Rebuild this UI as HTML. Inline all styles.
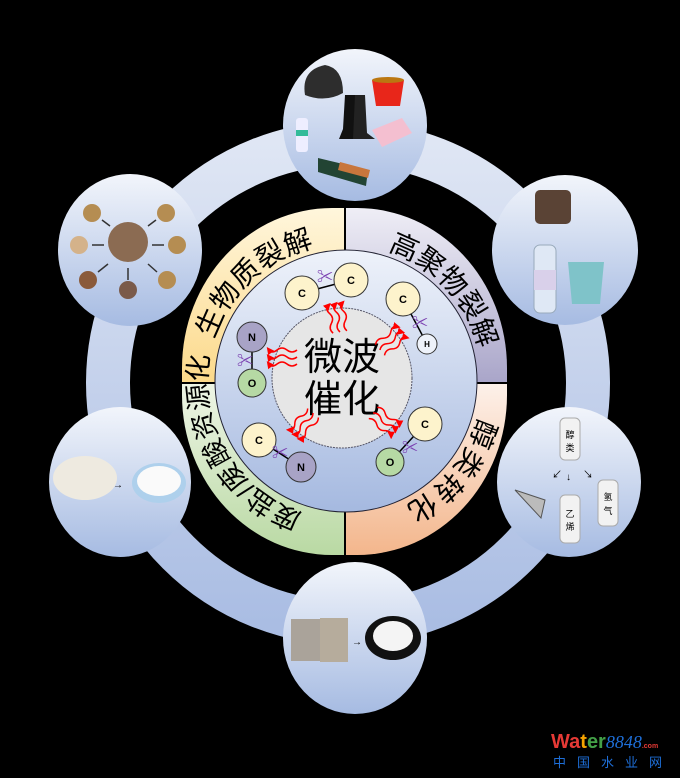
<!DOCTYPE html>
<html><head><meta charset="utf-8"><style>
html,body{margin:0;padding:0;background:#000;}
svg{display:block;}
text{font-family:"Liberation Sans","Noto Sans CJK SC",sans-serif;}
</style></head><body>
<svg width="680" height="778" viewBox="0 0 680 778" xmlns="http://www.w3.org/2000/svg">
<defs>
<linearGradient id="sat" x1="0" y1="0" x2="0" y2="1"><stop offset="0" stop-color="#f2f5fb"/><stop offset="1" stop-color="#a6bbe2"/></linearGradient>
<linearGradient id="ringg" x1="0" y1="0" x2="0" y2="1"><stop offset="0" stop-color="#dfe6f4"/><stop offset="1" stop-color="#aabde3"/></linearGradient>
<linearGradient id="mid" x1="0" y1="0" x2="0" y2="1"><stop offset="0" stop-color="#eef2fa"/><stop offset="1" stop-color="#a5b9e0"/></linearGradient>
<linearGradient id="qy" x1="0" y1="0" x2="0" y2="1"><stop offset="0" stop-color="#fff6dc"/><stop offset="1" stop-color="#fcd98a"/></linearGradient>
<linearGradient id="qp" x1="0" y1="0" x2="0" y2="1"><stop offset="0" stop-color="#efeef6"/><stop offset="1" stop-color="#a9a5c9"/></linearGradient>
<linearGradient id="qo" x1="0" y1="0" x2="0" y2="1"><stop offset="0" stop-color="#fdf1ea"/><stop offset="1" stop-color="#f3b68c"/></linearGradient>
<linearGradient id="qg" x1="0" y1="0" x2="0" y2="1"><stop offset="0" stop-color="#eef5e6"/><stop offset="1" stop-color="#b9d9a3"/></linearGradient>
<clipPath id="qclip"><rect x="182" y="208" width="325" height="347" rx="150" ry="160"/></clipPath>
<path id="l1" d="M213.8,339.4 A138,138 0 0 1 321.0,246.1"/>
<path id="l2" d="M387.6,250.8 A138,138 0 0 1 480.0,353.3"/>
<path id="l3" d="M478.3,417.7 A138,138 0 0 1 403.3,507.1"/>
<path id="l4" d="M302.4,513.2 A138,138 0 0 1 210.0,353.3"/>
<marker id="ah" markerWidth="5" markerHeight="5" refX="2.5" refY="2.5" orient="auto"><path d="M0,0 L5,2.5 L0,5 z" fill="#f00"/></marker>
<g id="waves" fill="none" stroke="#f00" stroke-width="1.5">
<path d="M0,-7 q5,-4 10,0 t10,0 t8,0" marker-end="url(#ah)"/>
<path d="M0,0 q5,-4 10,0 t10,0 t8,0" marker-end="url(#ah)"/>
<path d="M0,7 q5,-4 10,0 t10,0 t8,0" marker-end="url(#ah)"/>
</g>
</defs>
<rect width="680" height="778" fill="#000"/>
<circle cx="348" cy="383" r="240" fill="none" stroke="url(#ringg)" stroke-width="44"/>
<g clip-path="url(#qclip)">
<rect x="182" y="208" width="163" height="175" fill="url(#qy)"/>
<rect x="345" y="208" width="162" height="175" fill="url(#qp)"/>
<rect x="345" y="383" width="162" height="172" fill="url(#qo)"/>
<rect x="182" y="383" width="163" height="172" fill="url(#qg)"/>
</g>
<line x1="345" y1="208" x2="345" y2="555" stroke="#000" stroke-width="2"/>
<line x1="182" y1="383" x2="507" y2="383" stroke="#000" stroke-width="2"/>
<g font-size="28" fill="#000">
<text><textPath href="#l1" textLength="142" lengthAdjust="spacing">生物质裂解</textPath></text>
<text><textPath href="#l2" textLength="140" lengthAdjust="spacing">高聚物裂解</textPath></text>
<text><textPath href="#l3" textLength="118" lengthAdjust="spacing">醇类转化</textPath></text>
<text font-size="27"><textPath href="#l4" textLength="200" lengthAdjust="spacing">废盐/废酸资源化</textPath></text>
</g>
<circle cx="346" cy="381" r="131" fill="url(#mid)" stroke="#223" stroke-width="1"/>
<circle cx="342" cy="378" r="70" fill="#e6e6e6" stroke="#556" stroke-width="1" stroke-dasharray="2,1"/>
<text x="342" y="370" font-size="38" text-anchor="middle">微波</text>
<text x="342" y="412" font-size="38" text-anchor="middle">催化</text>
<g stroke="#000" stroke-width="1.5">
<line x1="302" y1="293" x2="351" y2="280"/><line x1="403" y1="299" x2="427" y2="344"/>
<line x1="252" y1="337" x2="252" y2="383"/><line x1="259" y1="440" x2="301" y2="467"/>
<line x1="425" y1="424" x2="390" y2="462"/>
</g>
<g stroke="#333" stroke-width="1">
<circle cx="302" cy="293" r="17" fill="#fdf3cc"/><circle cx="351" cy="280" r="17" fill="#fdf3cc"/>
<circle cx="403" cy="299" r="17" fill="#fdf3cc"/><circle cx="427" cy="344" r="10" fill="#eef2fa"/>
<circle cx="252" cy="337" r="15" fill="#a8a3c6"/><circle cx="252" cy="383" r="14" fill="#b6d9a4"/>
<circle cx="259" cy="440" r="17" fill="#fdf3cc"/><circle cx="301" cy="467" r="15" fill="#a8a3c6"/>
<circle cx="425" cy="424" r="17" fill="#fdf3cc"/><circle cx="390" cy="462" r="14" fill="#b6d9a4"/>
</g>
<g font-size="11" font-weight="bold" text-anchor="middle" style="font-family:'Liberation Serif',serif">
<text x="302" y="297">C</text><text x="351" y="284">C</text><text x="403" y="303">C</text><text x="427" y="347" font-size="8">H</text>
<text x="252" y="341">N</text><text x="252" y="387">O</text><text x="259" y="444">C</text><text x="301" y="471">N</text>
<text x="425" y="428">C</text><text x="390" y="466">O</text>
</g>
<g fill="#7a3fb0" font-size="16" text-anchor="middle">
<text x="325" y="282">✂</text><text x="420" y="328">✂</text><text x="245" y="366">✂</text><text x="280" y="458">✂</text><text x="410" y="453">✂</text>
</g>
<use href="#waves" transform="translate(340,332) rotate(-100)"/>
<use href="#waves" transform="translate(380,350) rotate(-40)"/>
<use href="#waves" transform="translate(297,357) rotate(180)"/>
<use href="#waves" transform="translate(313,413) rotate(130)"/>
<use href="#waves" transform="translate(373,413) rotate(37)"/>
<ellipse cx="355" cy="125" rx="72" ry="76" fill="url(#sat)"/>
<ellipse cx="565" cy="250" rx="73" ry="75" fill="url(#sat)"/>
<ellipse cx="569" cy="482" rx="72" ry="75" fill="url(#sat)"/>
<ellipse cx="355" cy="638" rx="72" ry="76" fill="url(#sat)"/>
<ellipse cx="120" cy="482" rx="71" ry="75" fill="url(#sat)"/>
<ellipse cx="130" cy="250" rx="72" ry="76" fill="url(#sat)"/>
<path d="M305,95 q-4,-25 20,-30 q18,3 18,28 q-18,10 -38,2z" fill="#2d2d2d"/>
<path d="M372,80 l32,0 l-4,26 l-24,0z" fill="#e8261a"/><ellipse cx="388" cy="80" rx="16" ry="3" fill="#b71"/>
<path d="M345,95 l10,0 l2,38 l8,6 l-26,0 l4,-10z" fill="#111"/><path d="M355,95 l10,0 l2,38 l8,6 l-22,0z" fill="#222"/>
<path d="M372,130 l30,-12 l10,15 l-30,14z" fill="#f4bfd0"/>
<rect x="296" y="118" width="12" height="34" rx="3" fill="#eef"/><rect x="296" y="130" width="12" height="6" fill="#3b9"/>
<path d="M318,158 l50,12 l-2,16 l-48,-14z" fill="#243"/><path d="M340,162 l30,8 l-2,8 l-30,-8z" fill="#c8763c"/>
<rect x="535" y="190" width="36" height="34" rx="5" fill="#5a4335"/>
<rect x="534" y="245" width="22" height="68" rx="6" fill="#dfe8f5" stroke="#9ab"/><rect x="534" y="270" width="22" height="20" fill="#d9d0ea"/>
<path d="M568,262 l36,0 l-4,42 l-28,0z" fill="#7fc3c9"/>
<rect x="560" y="418" width="20" height="42" rx="5" fill="#f2f2f2" stroke="#aaa"/>
<text x="570" y="438" font-size="9" text-anchor="middle">醇</text><text x="570" y="451" font-size="9" text-anchor="middle">类</text>
<rect x="560" y="495" width="20" height="48" rx="5" fill="#f2f2f2" stroke="#aaa"/>
<text x="570" y="517" font-size="9" text-anchor="middle">乙</text><text x="570" y="530" font-size="9" text-anchor="middle">烯</text>
<rect x="598" y="480" width="20" height="46" rx="5" fill="#f2f2f2" stroke="#aaa"/>
<text x="608" y="500" font-size="9" text-anchor="middle">氢</text><text x="608" y="514" font-size="9" text-anchor="middle">气</text>
<path d="M515,490 l30,10 l-4,18 z" fill="#bbb" stroke="#555"/>
<text x="552" y="478" font-size="10">↙</text><text x="566" y="480" font-size="10">↓</text><text x="583" y="478" font-size="10">↘</text>
<rect x="291" y="619" width="30" height="42" fill="#aaa39a"/><rect x="320" y="618" width="28" height="44" fill="#b6ac9c"/>
<text x="352" y="645" font-size="10">→</text>
<ellipse cx="393" cy="638" rx="28" ry="22" fill="#111"/><ellipse cx="393" cy="636" rx="20" ry="15" fill="#f4f4f4"/>
<ellipse cx="85" cy="478" rx="32" ry="22" fill="#eeeae0"/>
<text x="113" y="488" font-size="10">→</text>
<ellipse cx="159" cy="483" rx="27" ry="20" fill="#aed0ec"/><ellipse cx="159" cy="481" rx="22" ry="15" fill="#fafafa"/>
<circle cx="128" cy="242" r="20" fill="#8b6b52"/>
<g fill="#b58d52"><circle cx="92" cy="213" r="9"/><circle cx="166" cy="213" r="9"/><circle cx="79" cy="245" r="9" fill="#d4b28a"/><circle cx="177" cy="245" r="9"/><circle cx="88" cy="280" r="9" fill="#8a5a3a"/><circle cx="128" cy="290" r="9" fill="#7a5a4a"/><circle cx="167" cy="280" r="9"/></g>
<g stroke="#333" stroke-width="1.5"><line x1="102" y1="220" x2="110" y2="226"/><line x1="156" y1="220" x2="148" y2="226"/><line x1="92" y1="245" x2="104" y2="245"/><line x1="164" y1="245" x2="152" y2="245"/><line x1="98" y1="272" x2="108" y2="264"/><line x1="128" y1="280" x2="128" y2="268"/><line x1="157" y1="272" x2="148" y2="264"/></g>
<text x="551" y="748" font-size="20" font-weight="bold"><tspan fill="#e53935">Wa</tspan><tspan fill="#f4a300">t</tspan><tspan fill="#43a047">er</tspan><tspan fill="#1e6fd9" font-family="Liberation Serif" font-style="italic" font-weight="normal" font-size="18">8848</tspan><tspan fill="#e53935" font-size="7">.com</tspan></text>
<text x="553" y="767" font-size="13" fill="#1e6fd9" letter-spacing="11">中国水业网</text>
</svg>
</body></html>
